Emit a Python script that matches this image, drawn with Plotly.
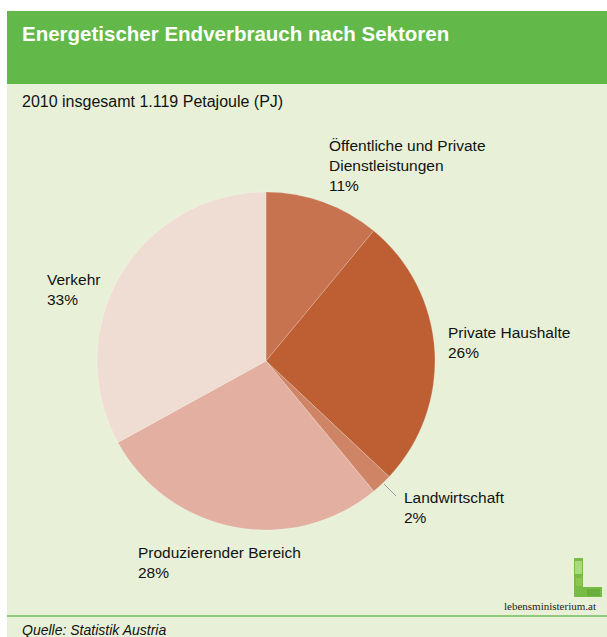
import plotly.graph_objects as go

# Final energy consumption by sector, Austria 2010 (share in %)
sectors = [
    "Öffentliche und Private<br>Dienstleistungen",
    "Private Haushalte",
    "Landwirtschaft",
    "Produzierender Bereich",
    "Verkehr",
]
shares = [11, 26, 2, 28, 33]
colors = ["#c77350", "#bd5e33", "#cf8466", "#e2afa0", "#efdcd3"]

title_text = "Energetischer Endverbrauch nach Sektoren"
subtitle_text = "2010 insgesamt 1.119 Petajoule (PJ)"
source_text = "Quelle: Statistik Austria"
logo_text = "lebensministerium.at"

W, H = 607, 637
PANEL = "#e8f1d8"
HEADER = "#62b94a"
FONT = "Arial, Liberation Sans, sans-serif"


def X(px):
    return px / W


def Y(py):
    return 1 - py / H


# pie circle: centre and radius in pixels
cx, cy, r = 266, 361, 169

fig = go.Figure(
    go.Pie(
        labels=[s.replace("<br>", " ") for s in sectors],
        values=shares,
        sort=False,
        direction="clockwise",
        rotation=0,
        marker=dict(colors=colors, line=dict(color="rgba(255,255,255,0.35)", width=0.6)),
        textinfo="none",
        hoverinfo="label+percent",
        showlegend=False,
        domain=dict(x=[X(cx - r), X(cx + r)], y=[Y(cy + r), Y(cy - r)]),
    )
)

shapes = [
    # white margin at the top and left
    dict(type="rect", xref="paper", yref="paper", x0=0, x1=1, y0=Y(11), y1=1,
         fillcolor="white", line_width=0, layer="below"),
    dict(type="rect", xref="paper", yref="paper", x0=0, x1=X(7), y0=0, y1=1,
         fillcolor="white", line_width=0, layer="below"),
    # green header band
    dict(type="rect", xref="paper", yref="paper", x0=X(7), x1=1, y0=Y(84), y1=Y(11),
         fillcolor=HEADER, line_width=0, layer="below"),
    # footer rule
    dict(type="line", xref="paper", yref="paper", x0=X(7), x1=1, y0=Y(616), y1=Y(616),
         line=dict(color="#8fca7c", width=2), layer="below"),
    # leader line for the small slice
    dict(type="line", xref="paper", yref="paper", x0=X(384), x1=X(396), y0=Y(484), y1=Y(496),
         line=dict(color="#9a9a9a", width=1)),
    # "L" logo
    dict(type="path", xref="paper", yref="paper",
         path=(f"M {X(574)},{Y(558)} L {X(583)},{Y(558)} L {X(583)},{Y(587)} "
               f"L {X(602)},{Y(587)} L {X(602)},{Y(597)} L {X(574)},{Y(597)} Z"),
         fillcolor="#78bb45", line_width=0),
    dict(type="rect", xref="paper", yref="paper", x0=X(575), x1=X(582), y0=Y(574), y1=Y(561),
         fillcolor="rgba(205,238,160,0.6)", line_width=0),
    dict(type="rect", xref="paper", yref="paper", x0=X(576), x1=X(582), y0=Y(586), y1=Y(578),
         fillcolor="rgba(150,205,90,0.6)", line_width=0),
    dict(type="rect", xref="paper", yref="paper", x0=X(587), x1=X(600), y0=Y(596), y1=Y(589),
         fillcolor="rgba(95,165,55,0.6)", line_width=0),
]

annotations = [
    dict(text=f"<b>{title_text}</b>", x=X(20), y=Y(33), xanchor="left", yanchor="middle",
         font=dict(family=FONT, size=20.5, color="white")),
    dict(text=subtitle_text, x=X(20), y=Y(101), xanchor="left", yanchor="middle",
         font=dict(family=FONT, size=16, color="#111111")),
    dict(text=f"<i>{source_text}</i>", x=X(20), y=Y(630), xanchor="left", yanchor="middle",
         font=dict(family=FONT, size=14, color="#111111")),
    dict(text=logo_text, x=X(598), y=Y(606), xanchor="right", yanchor="middle",
         font=dict(family="Liberation Serif, Times New Roman, serif", size=11, color="#222222")),
]

# slice labels: left edge x and vertical centre of the label block (pixels)
label_pos = [(327, 166), (446, 342), (402, 507), (136, 562), (45, 289)]
for name, val, (lx, ly) in zip(sectors, shares, label_pos):
    annotations.append(
        dict(text=f"{name}<br>{val}%", x=X(lx), y=Y(ly), xanchor="left", yanchor="middle",
             align="left", showarrow=False, font=dict(family=FONT, size=15.5, color="#111111"))
    )

for a in annotations:
    a.setdefault("showarrow", False)
    a["xref"] = "paper"
    a["yref"] = "paper"

fig.update_layout(
    width=W,
    height=H,
    margin=dict(l=0, r=0, t=0, b=0),
    paper_bgcolor=PANEL,
    plot_bgcolor=PANEL,
    shapes=shapes,
    annotations=annotations,
)

fig.write_html("out.html")
